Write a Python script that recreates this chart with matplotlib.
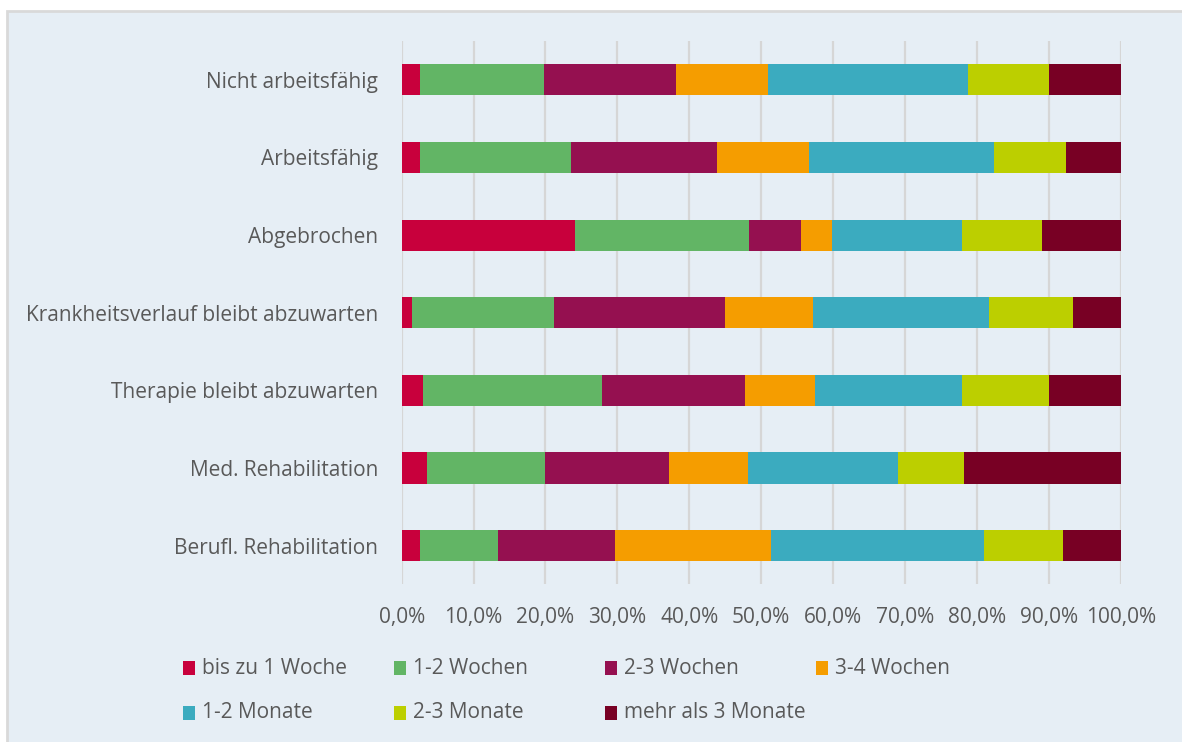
import matplotlib.pyplot as plt
import matplotlib.patches as patches
from matplotlib.ticker import FuncFormatter, MultipleLocator

# categories top to bottom
categories = [
    "Nicht arbeitsfähig",
    "Arbeitsfähig",
    "Abgebrochen",
    "Krankheitsverlauf bleibt abzuwarten",
    "Therapie bleibt abzuwarten",
    "Med. Rehabilitation",
    "Berufl. Rehabilitation",
]

series_names = ["bis zu 1 Woche", "1-2 Wochen", "2-3 Wochen", "3-4 Wochen",
                "1-2 Monate", "2-3 Monate", "mehr als 3 Monate"]
series_colors = ["#C8003C", "#62B565", "#951050", "#F59D00",
                 "#3BABBF", "#BCCF00", "#780024"]

# shares in percent, one list per series, same order as categories
bis_1_woche = [2.6, 2.5, 24.1, 1.4, 3.0, 3.5, 2.5]
wochen_1_2 = [17.2, 21.0, 24.2, 19.8, 24.9, 16.4, 10.9]
wochen_2_3 = [18.4, 20.4, 7.3, 23.7, 19.8, 17.3, 16.3]
wochen_3_4 = [12.7, 12.8, 4.2, 12.3, 9.8, 10.9, 21.6]
monate_1_2 = [27.8, 25.7, 18.1, 24.5, 20.4, 20.9, 29.7]
monate_2_3 = [11.3, 10.0, 11.1, 11.6, 12.1, 9.2, 10.9]
mehr_3_monate = [10.0, 7.6, 11.0, 6.7, 10.0, 21.8, 8.1]

values = [bis_1_woche, wochen_1_2, wochen_2_3, wochen_3_4,
          monate_1_2, monate_2_3, mehr_3_monate]

BG = "#E6EEF5"
TEXT = "#595959"
FS = 15
plt.rcParams["font.family"] = ["Open Sans", "DejaVu Sans"]

fig = plt.figure(figsize=(11.82, 7.42), dpi=100, facecolor="white")
# chart area frame, behind everything
fig.patches.append(patches.Rectangle((7 / 1182, -0.01), 1.02, 1 - 11 / 742 + 0.01,
                                     transform=fig.transFigure, facecolor=BG,
                                     edgecolor="#D9D9D9", linewidth=2.0, zorder=-10))

ax = fig.add_axes([0.3398, 0.2123, 0.6084, 0.7324])
ax.patch.set_alpha(0)

y = list(range(len(categories)))
left = [0.0] * len(categories)
for name, color, vals in zip(series_names, series_colors, values):
    ax.barh(y, vals, left=left, height=0.4, color=color, label=name,
            linewidth=0, zorder=3)
    left = [l + v for l, v in zip(left, vals)]

ax.set_xlim(0, 100)
ax.set_ylim(len(categories) - 0.5, -0.5)
ax.set_yticks(y)
ax.set_yticklabels(categories)
ax.xaxis.set_major_locator(MultipleLocator(10))
ax.xaxis.set_major_formatter(FuncFormatter(lambda v, p: f"{v:.1f}%".replace(".", ",")))
ax.grid(axis="x", color="#D6D6D6", linewidth=1.6, zorder=0)
ax.tick_params(axis="x", length=0, pad=16, labelsize=FS, labelcolor=TEXT)
ax.tick_params(axis="y", length=0, pad=17, labelsize=FS, labelcolor=TEXT)
for s in ax.spines.values():
    s.set_visible(False)

# legend in two rows of four fixed-width columns
for i, (name, color) in enumerate(zip(series_names, series_colors)):
    col, row = i % 4, i // 4
    x0 = 183 / 1182 + col * 211 / 1182
    yc = 1 - (668 + row * 45) / 742
    fig.patches.append(patches.Rectangle((x0, yc - 7 / 742), 12 / 1182, 14 / 742,
                                         transform=fig.transFigure, facecolor=color,
                                         edgecolor="none", zorder=2))
    fig.text(x0 + 19 / 1182, yc, name, fontsize=FS, color=TEXT, va="center", ha="left")

fig.savefig("out.png", dpi=100, facecolor="white")
